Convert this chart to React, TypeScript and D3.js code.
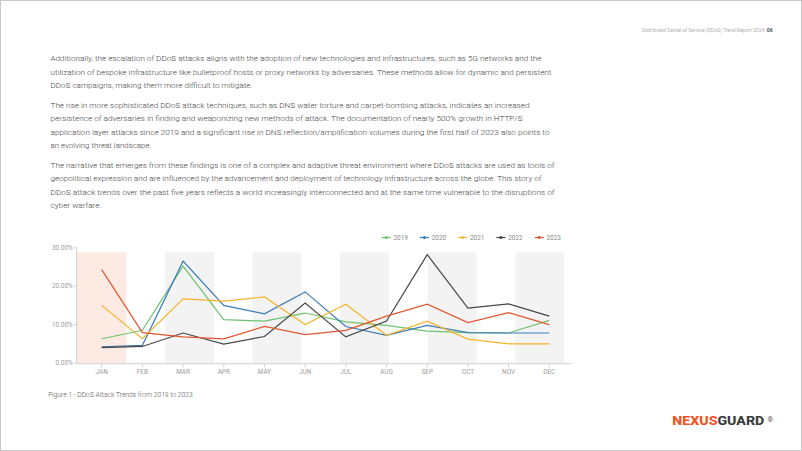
import React from "react";
import * as d3 from "d3";

const W = 802;
const H = 451;

const months = ["JAN", "FEB", "MAR", "APR", "MAY", "JUN", "JUL", "AUG", "SEP", "OCT", "NOV", "DEC"];
const years = ["2019", "2020", "2021", "2022", "2023"];
const v2019 = [6.3, 8.5, 25.2, 11.3, 10.9, 13.0, 10.7, 9.8, 8.3, 7.9, 7.8, 11.1];
const v2020 = [4.2, 4.6, 26.5, 15.0, 12.8, 18.5, 9.5, 7.2, 9.8, 7.9, 7.8, 7.8];
const v2021 = [15.0, 6.3, 16.7, 16.1, 17.2, 10.0, 15.3, 7.2, 10.9, 6.2, 5.0, 5.0];
const v2022 = [4.0, 4.3, 7.8, 4.9, 6.9, 15.6, 6.8, 10.9, 28.2, 14.3, 15.4, 12.2];
const v2023 = [24.3, 7.9, 6.8, 6.3, 9.5, 7.4, 8.5, 12.2, 15.3, 10.5, 13.1, 10.0];
const yTicks = [0, 10, 20, 30];
const stripeGroups = ["a", "b", "c", "d", "e", "f"];

const paragraphs = [
  [
    "Additionally, the escalation of DDoS attacks aligns with the adoption of new technologies and infrastructures, such as 5G networks and the",
    "utilization of bespoke infrastructure like bulletproof hosts or proxy networks by adversaries. These methods allow for dynamic and persistent",
    "DDoS campaigns, making them more difficult to mitigate.",
  ],
  [
    "The rise in more sophisticated DDoS attack techniques, such as DNS water torture and carpet-bombing attacks, indicates an increased",
    "persistence of adversaries in finding and weaponizing new methods of attack. The documentation of nearly 500% growth in HTTP/S",
    "application layer attacks since 2019 and a significant rise in DNS reflection/amplification volumes during the first half of 2023 also points to",
    "an evolving threat landscape.",
  ],
  [
    "The narrative that emerges from these findings is one of a complex and adaptive threat environment where DDoS attacks are used as tools of",
    "geopolitical expression and are influenced by the advancement and deployment of technology infrastructure across the globe. This story of",
    "DDoS attack trends over the past five years reflects a world increasingly interconnected and at the same time vulnerable to the disruptions of",
    "cyber warfare.",
  ],
];
const lineWidths = [
  [491, 501, 202],
  [479, 472, 499, 101],
  [504, 491, 504, 51],
];

const headerText = "Distributed Denial of Service (DDoS) Trend Report 2024";
const pageNum = "06";
const caption = "Figure 1 - DDoS Attack Trends from  2019 to 2023";

const colors = ["#6fc271", "#3b7db7", "#f6b42c", "#474747", "#e1562f"];
const series = [v2019, v2020, v2021, v2022, v2023];

export default function App() {
  const font = "Roboto, 'Noto Sans', sans-serif";
  const x = d3.scalePoint<string>().domain(months).range([101.7, 549.3]);
  const y = d3.scaleLinear().domain([0, 30]).range([363, 247.7]);
  const stripes = d3
    .scaleBand<string>()
    .domain(stripeGroups)
    .range([77.3, 564.3])
    .paddingInner(0.44);
  const line = d3
    .line<number>()
    .x((_, i) => x(months[i]) as number)
    .y((d) => y(d));

  const axisLeft = 76.7;
  const axisBottom = 363.7;
  const axisRight = 571.7;
  const paraTops = [58.3, 105, 165];
  const lh = 13.35;

  return (
    <svg
      width={W}
      height={H}
      style={{ position: "absolute", left: 0, top: 0, background: "#fff" }}
      fontFamily={font}
    >
      <rect x={0.5} y={0.5} width={W - 1} height={H - 1} fill="#fff" stroke="#c8c8c8" strokeWidth={1} />

      {/* header */}
      <text x={764.3} y={31.7} fontSize={5} fill="#b0b0b0" textAnchor="end" textLength={122.6} lengthAdjust="spacingAndGlyphs">
        {headerText}
      </text>
      <text x={766.7} y={31.7} fontSize={5.2} fill="#555" fontWeight={700}>
        {pageNum}
      </text>

      {/* paragraphs */}
      {paragraphs.map((p, pi) =>
        p.map((ln, li) => (
          <text
            key={`${pi}-${li}`}
            x={50.5}
            y={paraTops[pi] + li * lh + 3}
            fontSize={8}
            fontWeight={300}
            fill="#3f3f3f"
            textLength={lineWidths[pi][li]}
            lengthAdjust="spacingAndGlyphs"
          >
            {ln}
          </text>
        ))
      )}

      {/* stripes */}
      {stripeGroups.map((g, i) => (
        <rect
          key={g}
          x={stripes(g)}
          y={y(28.8)}
          width={stripes.bandwidth()}
          height={y(0) - y(28.8)}
          fill={i === 0 ? "#fdebe3" : "#f3f3f3"}
        />
      ))}

      {/* axes */}
      <line x1={axisLeft} x2={axisLeft} y1={y(30)} y2={axisBottom} stroke="#cfcfcf" strokeWidth={1} />
      <line x1={axisLeft} x2={axisRight} y1={axisBottom} y2={axisBottom} stroke="#cfcfcf" strokeWidth={1} />
      {yTicks.map((t) => (
        <g key={t}>
          <line x1={axisLeft - 3} x2={axisLeft} y1={y(t)} y2={y(t)} stroke="#cfcfcf" />
          <text x={72.7} y={y(t) + 2.3} fontSize={6.4} fill="#9a9a9a" textAnchor="end">
            {t.toFixed(2)}%
          </text>
        </g>
      ))}
      {months.map((m) => (
        <g key={m}>
          <line x1={x(m)} x2={x(m)} y1={axisBottom} y2={axisBottom + 3.5} stroke="#cfcfcf" />
          <text x={x(m)} y={374.4} fontSize={6.4} fill="#9a9a9a" textAnchor="middle">
            {m}
          </text>
        </g>
      ))}

      {/* lines */}
      {series.map((s, i) => (
        <path key={years[i]} d={line(s) || ""} fill="none" stroke={colors[i]} strokeWidth={1.2} strokeLinejoin="miter" />
      ))}

      {/* legend */}
      {years.map((yr, i) => {
        const lx = 381.7 + i * 38.25;
        const ly = 237.5;
        return (
          <g key={yr}>
            <line x1={lx} x2={lx + 9} y1={ly} y2={ly} stroke={colors[i]} strokeWidth={1.2} />
            <circle cx={lx + 4.5} cy={ly} r={1.6} fill={colors[i]} />
            <text x={lx + 11.8} y={ly + 2.3} fontSize={6.4} fill="#8a8a8a">
              {yr}
            </text>
          </g>
        );
      })}

      {/* caption */}
      <text x={48.3} y={397.3} fontSize={6.7} fontWeight={300} fill="#555" textLength={144.4} lengthAdjust="spacingAndGlyphs">
        {caption}
      </text>

      {/* logo */}
      <text x={672.3} y={425} fontSize={12} fontWeight={800} textLength={92} lengthAdjust="spacingAndGlyphs">
        <tspan fill="#f0531f">NEXUS</tspan>
        <tspan fill="#3c3c3c">GUARD</tspan>
      </text>
      <text x={767.5} y={422} fontSize={7} fill="#555">
        ®
      </text>
    </svg>
  );
}
